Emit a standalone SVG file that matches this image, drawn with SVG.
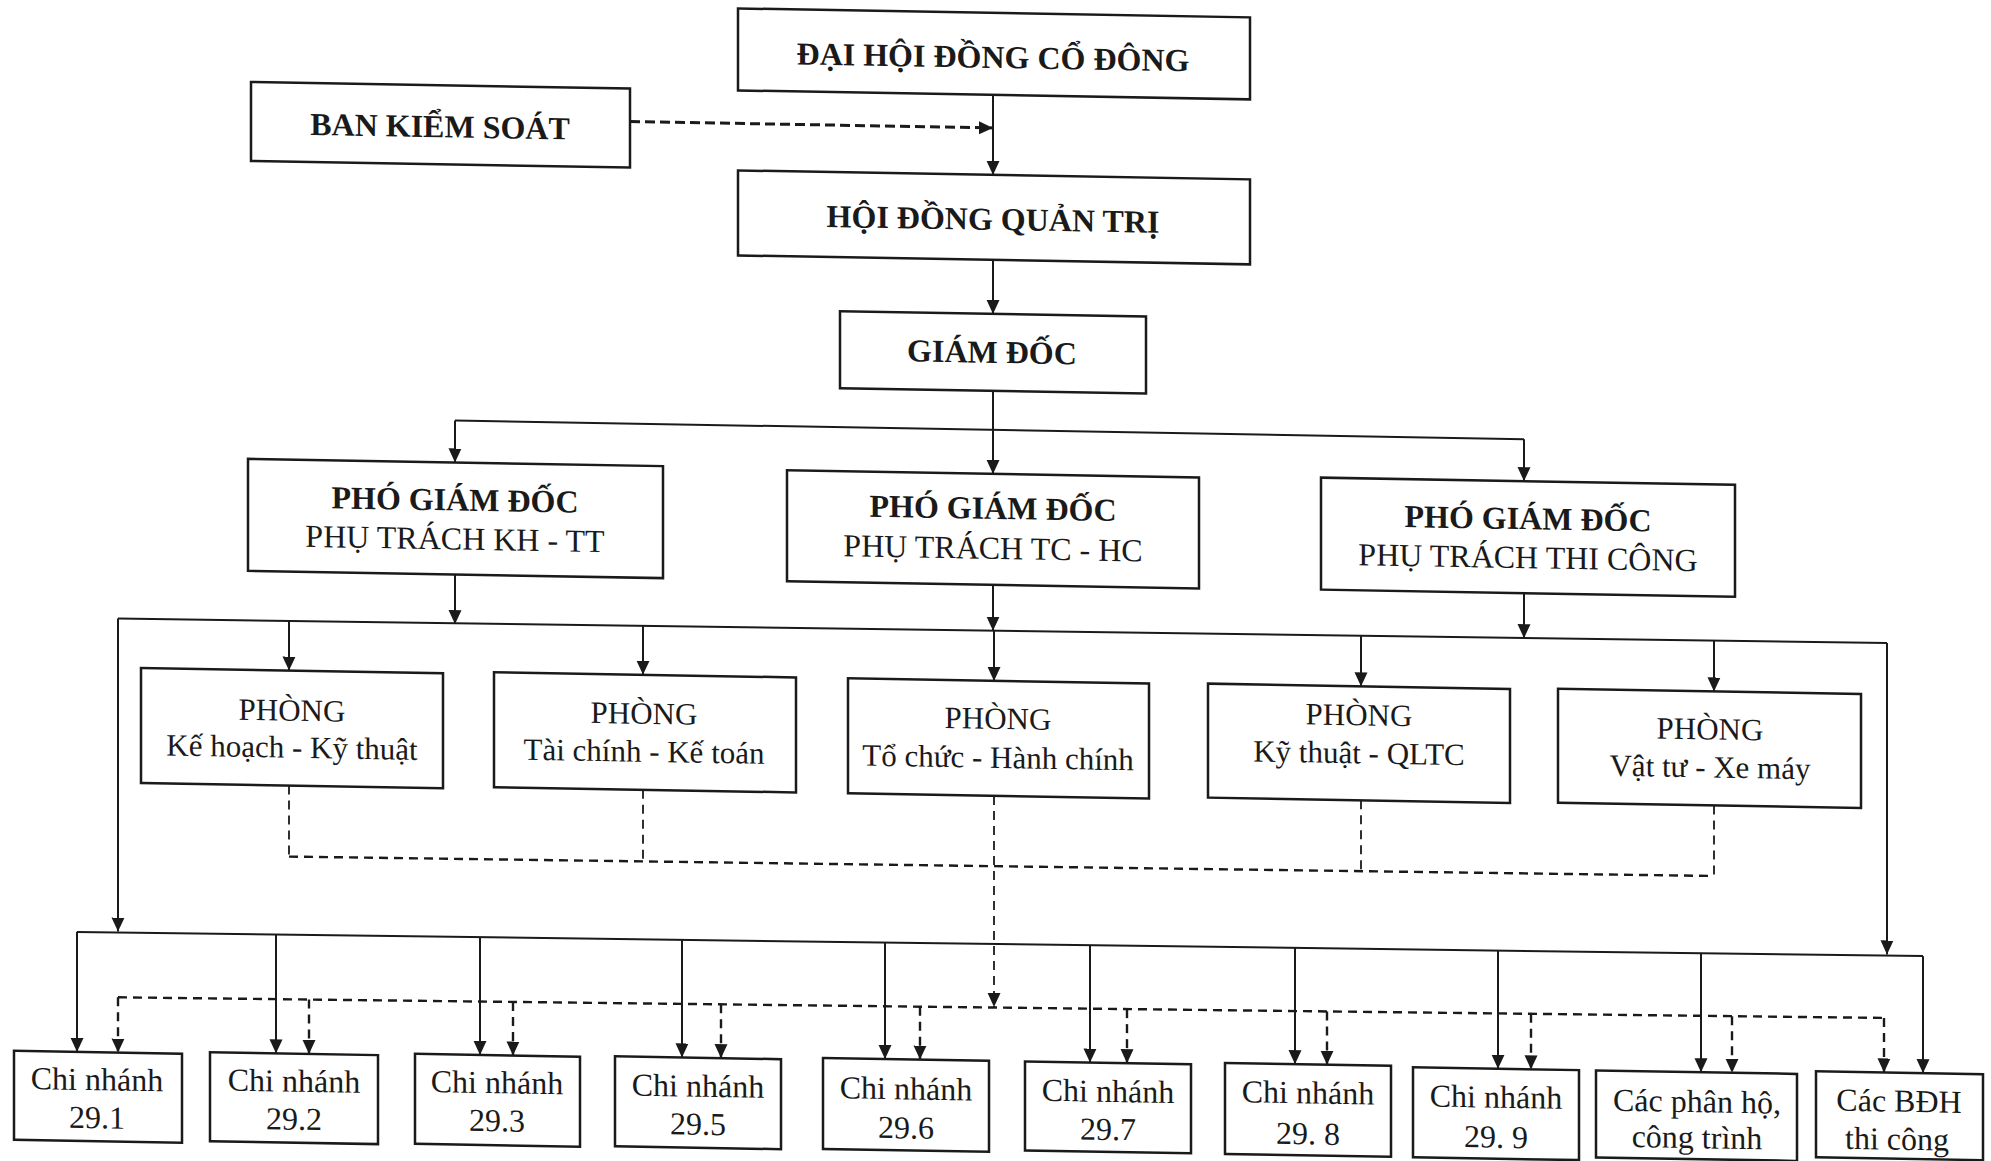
<svg xmlns="http://www.w3.org/2000/svg" width="1991" height="1161" viewBox="0 0 1991 1161">
<style>
.box{fill:#fff;stroke:#1a1a1a;stroke-width:2.5}
.t{font-family:"Liberation Serif","Times New Roman",serif;fill:#1a1a1a;text-anchor:middle}
.b{font-weight:bold;font-size:32px}
.r{font-size:31px}
.s{font-size:32px}
.ln{stroke:#1a1a1a;stroke-width:2;fill:none}
.dl{stroke:#1a1a1a;stroke-width:2.4;fill:none;stroke-dasharray:9 6}
.dv{stroke:#1a1a1a;stroke-width:1.8;fill:none;stroke-dasharray:9 6}
.dk{stroke:#1a1a1a;stroke-width:3;fill:none;stroke-dasharray:10 5}
</style>
<defs>
<marker id="arr" viewBox="0 0 14 14" refX="14" refY="7" markerWidth="14" markerHeight="14" markerUnits="userSpaceOnUse" orient="auto">
<path d="M0,0.5 L14,7 L0,13.5 z" fill="#1a1a1a"/>
</marker>
</defs>
<rect width="1991" height="1161" fill="#fff"/>
<g transform="matrix(1,0.01746,0,1,0,-17.46)">
<g id="connectors">
<path class="dk" d="M630,128 H993" marker-end="url(#arr)"/>
<path class="ln" d="M993,95 V175" marker-end="url(#arr)"/>
<path class="ln" d="M993,260 V314" marker-end="url(#arr)"/>
<path class="ln" d="M993,391 V474" marker-end="url(#arr)"/>
<path class="ln" d="M455,430 H1524"/>
<path class="ln" d="M455,430 V472" marker-end="url(#arr)"/>
<path class="ln" d="M1524,430 V472" marker-end="url(#arr)"/>
<path class="ln" d="M455,584 V633.6" marker-end="url(#arr)"/>
<path class="ln" d="M993,585 V630.8" marker-end="url(#arr)"/>
<path class="ln" d="M1524,584 V629" marker-end="url(#arr)"/>
<path class="ln" d="M118,634 L1887,627.5"/>
<path class="ln" d="M118,634 V947" marker-end="url(#arr)"/>
<path class="ln" d="M1887,627.5 V939" marker-end="url(#arr)"/>
<path class="ln" d="M289,633.4 V683" marker-end="url(#arr)"/>
<path class="ln" d="M643,632.1 V681" marker-end="url(#arr)"/>
<path class="ln" d="M994,630.8 V681" marker-end="url(#arr)"/>
<path class="ln" d="M1361,629.4 V680" marker-end="url(#arr)"/>
<path class="ln" d="M1714,628.1 V679" marker-end="url(#arr)"/>
<path class="dv" d="M289,798 V869"/>
<path class="dv" d="M643,796 V867.6"/>
<path class="dv" d="M1361,794 V864.9"/>
<path class="dv" d="M1714,793 V863.5"/>
<path class="dl" d="M289,869 L1714,863.5"/>
<path class="dv" d="M994,796 V1007" marker-end="url(#arr)"/>
<path class="ln" d="M77,948 L1923,940"/>
<path class="ln" d="M77,948 V1068" marker-end="url(#arr)"/>
<path class="ln" d="M276,947.1 V1066" marker-end="url(#arr)"/>
<path class="ln" d="M480,946.3 V1064" marker-end="url(#arr)"/>
<path class="ln" d="M682,945.4 V1063" marker-end="url(#arr)"/>
<path class="ln" d="M885,944.5 V1061" marker-end="url(#arr)"/>
<path class="ln" d="M1090,943.6 V1061" marker-end="url(#arr)"/>
<path class="ln" d="M1295,942.7 V1059" marker-end="url(#arr)"/>
<path class="ln" d="M1498,941.8 V1060" marker-end="url(#arr)"/>
<path class="ln" d="M1701,941 V1060" marker-end="url(#arr)"/>
<path class="ln" d="M1923,940 V1057" marker-end="url(#arr)"/>
<path class="dl" d="M118,1012.7 L1884,1002.5"/>
<path class="dl" d="M118,1012.7 V1068" marker-end="url(#arr)"/>
<path class="dl" d="M309,1011.6 V1066" marker-end="url(#arr)"/>
<path class="dl" d="M513,1010.4 V1064" marker-end="url(#arr)"/>
<path class="dl" d="M721,1009.2 V1063" marker-end="url(#arr)"/>
<path class="dl" d="M920,1008.1 V1061" marker-end="url(#arr)"/>
<path class="dl" d="M1127,1006.9 V1061" marker-end="url(#arr)"/>
<path class="dl" d="M1327,1005.7 V1059" marker-end="url(#arr)"/>
<path class="dl" d="M1531,1004.5 V1060" marker-end="url(#arr)"/>
<path class="dl" d="M1732,1003.4 V1060" marker-end="url(#arr)"/>
<path class="dl" d="M1884,1002.5 V1057" marker-end="url(#arr)"/>
</g>
<g id="dhdcd"><rect class="box" x="738" y="13" width="512" height="82"/><text class="t b" x="993" y="68">ĐẠI HỘI ĐỒNG CỔ ĐÔNG</text></g>
<g id="bks"><rect class="box" x="251" y="95" width="379" height="79"/><text class="t b" x="440" y="147">BAN KIỂM SOÁT</text></g>
<g id="hdqt"><rect class="box" x="738" y="175" width="512" height="85"/><text class="t b" x="993" y="230">HỘI ĐỒNG QUẢN TRỊ</text></g>
<g id="gd"><rect class="box" x="840" y="314" width="306" height="77"/><text class="t b" x="992" y="363">GIÁM ĐỐC</text></g>
<g id="pgd1"><rect class="box" x="248" y="472" width="415" height="112"/><text class="t b" x="455" y="520">PHÓ GIÁM ĐỐC</text><text class="t s" x="455" y="559">PHỤ TRÁCH KH - TT</text></g>
<g id="pgd2"><rect class="box" x="787" y="474" width="412" height="111"/><text class="t b" x="993" y="519">PHÓ GIÁM ĐỐC</text><text class="t s" x="993" y="559">PHỤ TRÁCH TC - HC</text></g>
<g id="pgd3"><rect class="box" x="1321" y="472" width="414" height="112"/><text class="t b" x="1528" y="520">PHÓ GIÁM ĐỐC</text><text class="t s" x="1528" y="559">PHỤ TRÁCH THI CÔNG</text></g>
<g id="p1"><rect class="box" x="141" y="683" width="302" height="115"/><text class="t r" x="292" y="733">PHÒNG</text><text class="t r" x="292" y="770">Kế hoạch - Kỹ thuật</text></g>
<g id="p2"><rect class="box" x="494" y="681" width="302" height="115"/><text class="t r" x="644" y="730">PHÒNG</text><text class="t r" x="644" y="768">Tài chính - Kế toán</text></g>
<g id="p3"><rect class="box" x="848" y="681" width="301" height="115"/><text class="t r" x="998" y="729">PHÒNG</text><text class="t r" x="998" y="768">Tổ chức - Hành chính</text></g>
<g id="p4"><rect class="box" x="1208" y="680" width="302" height="114"/><text class="t r" x="1359" y="719">PHÒNG</text><text class="t r" x="1359" y="757">Kỹ thuật - QLTC</text></g>
<g id="p5"><rect class="box" x="1558" y="679" width="303" height="114"/><text class="t r" x="1710" y="727">PHÒNG</text><text class="t r" x="1710" y="765">Vật tư - Xe máy</text></g>
<g id="cn1"><rect class="box" x="14" y="1068" width="168" height="89"/><text class="t s" x="97" y="1106">Chi nhánh</text><text class="t s" x="97" y="1144">29.1</text></g>
<g id="cn2"><rect class="box" x="210" y="1066" width="168" height="89"/><text class="t s" x="294" y="1104">Chi nhánh</text><text class="t s" x="294" y="1142">29.2</text></g>
<g id="cn3"><rect class="box" x="415" y="1064" width="165" height="90"/><text class="t s" x="497" y="1102">Chi nhánh</text><text class="t s" x="497" y="1140">29.3</text></g>
<g id="cn5"><rect class="box" x="615" y="1063" width="166" height="90"/><text class="t s" x="698" y="1102">Chi nhánh</text><text class="t s" x="698" y="1140">29.5</text></g>
<g id="cn6"><rect class="box" x="823" y="1061" width="166" height="91"/><text class="t s" x="906" y="1101">Chi nhánh</text><text class="t s" x="906" y="1140">29.6</text></g>
<g id="cn7"><rect class="box" x="1025" y="1061" width="166" height="89"/><text class="t s" x="1108" y="1100">Chi nhánh</text><text class="t s" x="1108" y="1138">29.7</text></g>
<g id="cn8"><rect class="box" x="1225" y="1059" width="166" height="91"/><text class="t s" x="1308" y="1098">Chi nhánh</text><text class="t s" x="1308" y="1139">29. 8</text></g>
<g id="cn9"><rect class="box" x="1413" y="1060" width="166" height="90"/><text class="t s" x="1496" y="1099">Chi nhánh</text><text class="t s" x="1496" y="1139">29. 9</text></g>
<g id="phanho"><rect class="box" x="1596" y="1060" width="201" height="87"/><text class="t s" x="1697" y="1100">Các phân hộ,</text><text class="t s" x="1697" y="1136">công trình</text></g>
<g id="bdh"><rect class="box" x="1816" y="1057" width="167" height="86"/><text class="t s" x="1899" y="1096">Các BĐH</text><text class="t s" x="1897" y="1134">thi công</text></g>
</g>
</svg>
